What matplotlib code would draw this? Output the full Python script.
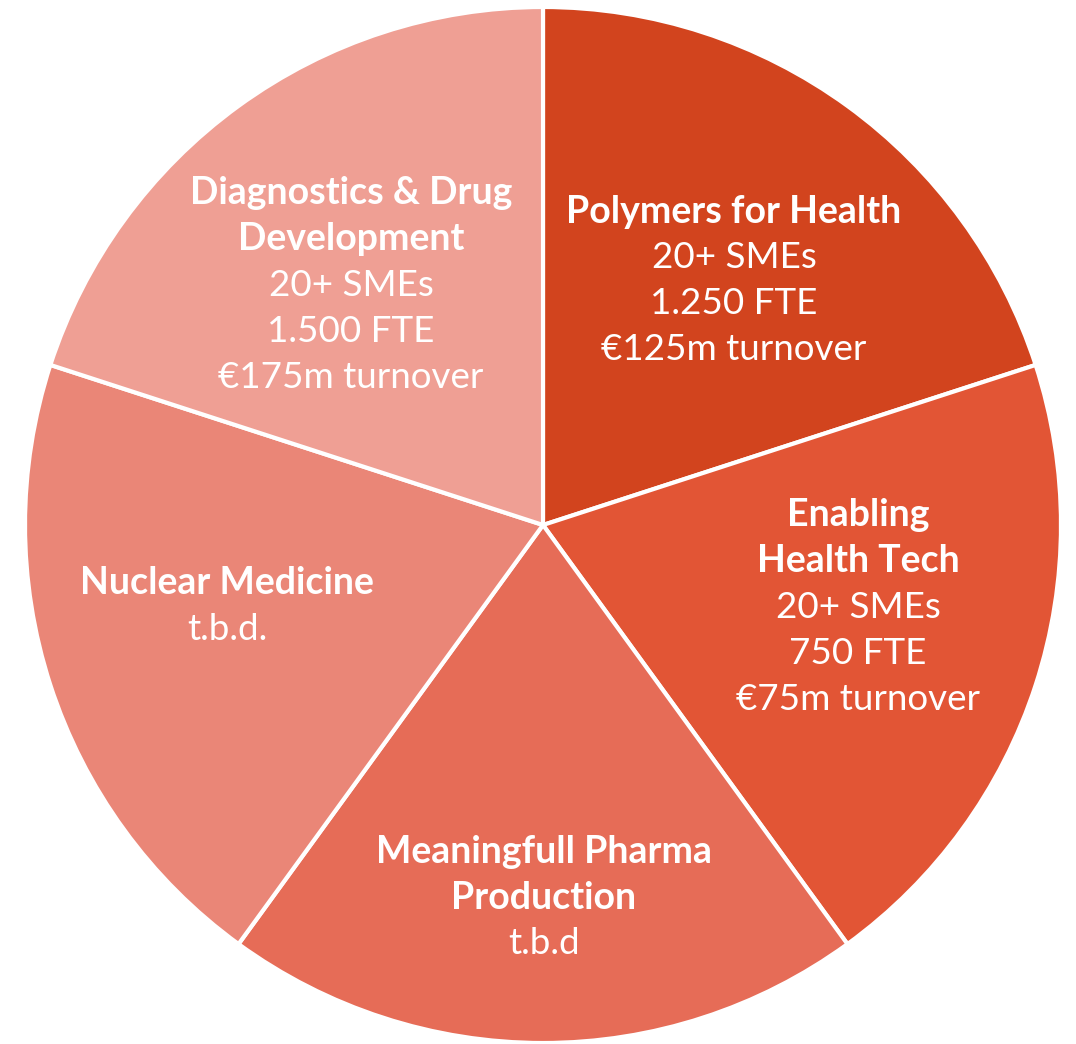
import matplotlib
matplotlib.use("Agg")
import matplotlib.pyplot as plt

# five equal clusters, clockwise from the top
clusters = ["Polymers for Health", "Enabling\nHealth Tech", "Meaningfull Pharma\nProduction",
            "Nuclear Medicine", "Diagnostics & Drug\nDevelopment"]
details = ["20+ SMEs\n1.250 FTE\n€125m turnover",
           "20+ SMEs\n750 FTE\n€75m turnover",
           "t.b.d",
           "t.b.d.",
           "20+ SMEs\n1.500 FTE\n€175m turnover"]
shares = [1, 1, 1, 1, 1]
colors = ["#D2441E", "#E25535", "#E66C57", "#EA8677", "#EF9F94"]

W, H = 1076, 1044
fig = plt.figure(figsize=(W / 100, H / 100), dpi=100)
ax = fig.add_axes([0, 0, 1, 1])

cx, cy, r = 543, H - 525, 518
ax.pie(shares, colors=colors, startangle=90, counterclock=False,
       center=(cx, cy), radius=r, frame=True,
       wedgeprops=dict(edgecolor="white", linewidth=3))
ax.set_xlim(0, W)
ax.set_ylim(0, H)
ax.set_aspect("equal")
ax.axis("off")

# label anchor: (x of centre, y of top line) in image pixels
label_pos = [(734, 212), (858, 515), (544, 852), (227, 583), (351, 193)]
line_h = 46
fs = 27

for name, det, (lx, ly) in zip(clusters, details, label_pos):
    n_title = name.count("\n") + 1
    for i, line in enumerate(name.split("\n")):
        ax.text(lx, H - (ly + i * line_h), line, ha="center", va="center",
                color="white", fontsize=fs, fontweight="bold", family="Lato")
    for j, line in enumerate(det.split("\n")):
        ax.text(lx, H - (ly + (n_title + j) * line_h), line, ha="center", va="center",
                color="white", fontsize=fs - 0.5, family="Lato")

fig.savefig("out.png", dpi=100, facecolor="white")
